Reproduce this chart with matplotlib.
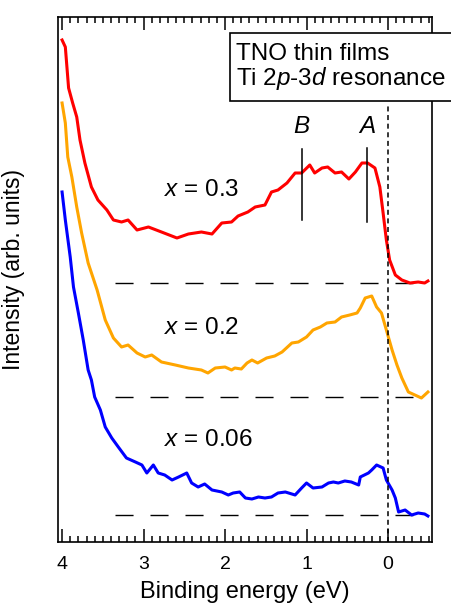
import matplotlib
matplotlib.use('Agg')
import matplotlib.pyplot as plt
from matplotlib.patches import Rectangle
from matplotlib.ticker import MultipleLocator

plt.rcParams['font.family'] = ['Liberation Sans', 'DejaVu Sans']
plt.rcParams['mathtext.fontset'] = 'custom'
plt.rcParams['mathtext.rm'] = 'Liberation Sans'
plt.rcParams['mathtext.it'] = 'Liberation Sans:italic'
plt.rcParams['lines.scale_dashes'] = False

# binding energy (eV) / intensity (arb. units)
e_03 = [4.00, 3.96, 3.92, 3.87, 3.82, 3.78, 3.72, 3.64, 3.56, 3.45, 3.37, 3.27, 3.19, 3.08,
        2.94, 2.78, 2.59, 2.45, 2.29, 2.16, 2.04, 1.92, 1.84, 1.72, 1.63, 1.51, 1.43, 1.35,
        1.24, 1.14, 1.06, 0.96, 0.90, 0.81, 0.74, 0.65, 0.57, 0.48, 0.40, 0.32, 0.25, 0.16,
        0.10, 0.06, 0.02, -0.02, -0.09, -0.17, -0.27, -0.37, -0.45, -0.49]
i_03 = [5.02, 4.95, 4.54, 4.39, 4.25, 4.02, 3.79, 3.55, 3.42, 3.32, 3.22, 3.20, 3.22, 3.12,
        3.15, 3.10, 3.04, 3.08, 3.10, 3.08, 3.19, 3.20, 3.26, 3.30, 3.35, 3.37, 3.50, 3.52,
        3.59, 3.69, 3.69, 3.77, 3.69, 3.74, 3.75, 3.69, 3.70, 3.63, 3.70, 3.79, 3.79, 3.74,
        3.55, 3.29, 3.02, 2.82, 2.67, 2.62, 2.59, 2.60, 2.59, 2.61]

e_02 = [4.00, 3.96, 3.93, 3.88, 3.82, 3.76, 3.68, 3.57, 3.47, 3.37, 3.27, 3.19, 3.08, 2.98,
        2.90, 2.78, 2.61, 2.45, 2.29, 2.21, 2.12, 2.00, 1.92, 1.88, 1.80, 1.73, 1.67, 1.60,
        1.49, 1.39, 1.30, 1.18, 1.10, 1.00, 0.92, 0.83, 0.75, 0.65, 0.57, 0.47, 0.38, 0.34,
        0.28, 0.20, 0.14, 0.08, 0.02, -0.05, -0.11, -0.17, -0.25, -0.33, -0.41, -0.45, -0.49]
i_02 = [4.39, 4.19, 3.85, 3.65, 3.35, 3.09, 2.79, 2.52, 2.22, 2.04, 1.95, 1.97, 1.89, 1.85,
        1.87, 1.80, 1.77, 1.74, 1.72, 1.69, 1.74, 1.75, 1.72, 1.74, 1.73, 1.79, 1.82, 1.79,
        1.84, 1.86, 1.90, 1.99, 2.00, 2.05, 2.12, 2.15, 2.19, 2.20, 2.25, 2.27, 2.29, 2.34,
        2.44, 2.46, 2.35, 2.29, 2.12, 1.92, 1.77, 1.64, 1.50, 1.47, 1.44, 1.47, 1.50]

e_006 = [4.00, 3.96, 3.90, 3.86, 3.80, 3.74, 3.68, 3.64, 3.60, 3.53, 3.47, 3.39, 3.31, 3.21,
         3.10, 3.02, 2.96, 2.88, 2.82, 2.74, 2.65, 2.57, 2.47, 2.41, 2.33, 2.25, 2.16, 2.04,
         1.96, 1.90, 1.82, 1.75, 1.67, 1.59, 1.51, 1.43, 1.35, 1.26, 1.14, 1.06, 1.00, 0.92,
         0.81, 0.73, 0.67, 0.61, 0.53, 0.45, 0.36, 0.34, 0.24, 0.20, 0.14, 0.06, 0.02, -0.05,
         -0.09, -0.13, -0.21, -0.29, -0.37, -0.45, -0.49]
i_006 = [3.50, 3.22, 2.85, 2.55, 2.29, 2.02, 1.72, 1.62, 1.45, 1.32, 1.15, 1.04, 0.95, 0.84,
         0.80, 0.77, 0.69, 0.77, 0.69, 0.67, 0.62, 0.65, 0.69, 0.59, 0.55, 0.58, 0.52, 0.50,
         0.47, 0.49, 0.50, 0.44, 0.43, 0.45, 0.44, 0.45, 0.49, 0.50, 0.47, 0.54, 0.59, 0.54,
         0.55, 0.59, 0.60, 0.59, 0.61, 0.60, 0.57, 0.65, 0.69, 0.72, 0.77, 0.74, 0.62, 0.52,
         0.44, 0.30, 0.32, 0.27, 0.29, 0.28, 0.26]

spectra = [
    (e_03, i_03, '#ff0000', 2.59, '$x$ = 0.3', 3.52),
    (e_02, i_02, '#ffa500', 1.45, '$x$ = 0.2', 2.14),
    (e_006, i_006, '#0000ff', 0.27, '$x$ = 0.06', 1.02),
]
base_range = (3.35, -0.31)
label_e = 2.75

peak_names = ['B', 'A']
peak_e = [1.06, 0.26]
peak_lo = [3.22, 3.20]
peak_hi = [3.93, 3.94]

fig = plt.figure(figsize=(4.52, 6.07), dpi=100)
ax = fig.add_axes([58 / 452, 65 / 607, 374 / 452, 525 / 607])

for e, i, c, base, lab, ly in spectra:
    ax.plot(base_range, [base, base], color='black', lw=1.0, dashes=(13, 12.2))
    ax.plot(e, i, color=c, lw=2.2, solid_joinstyle='round')
    ax.text(label_e, ly, lab, fontsize=17.5, ha='left', va='center')

ax.plot([0, 0], [0, 4.39], color='black', lw=1.1, dashes=(3.6, 2.6))

for name, pe, lo, hi in zip(peak_names, peak_e, peak_lo, peak_hi):
    ax.plot([pe, pe], [lo, hi], color='black', lw=1.1)
    ax.text(pe, 4.15, name, fontsize=17.5, style='italic', ha='center', va='center')

ax.set_xlim(4.05, -0.54)
ax.set_ylim(0, 5.25)
ax.set_yticks([])
ax.xaxis.set_major_locator(MultipleLocator(1))
ax.xaxis.set_minor_locator(MultipleLocator(0.1))
ax.tick_params(axis='x', which='both', direction='in', top=True, width=1.1, labelsize=14, pad=10)
ax.tick_params(axis='x', which='major', length=9.4)
ax.tick_params(axis='x', which='minor', length=4.3)
for s in ax.spines.values():
    s.set_linewidth(1.2)

ax.set_xlabel('Binding energy (eV)', fontsize=17)
ax.xaxis.set_label_coords(0.5, -0.074)
ax.set_ylabel('Intensity (arb. units)', fontsize=16.5)
ax.yaxis.set_label_coords(-0.088, 0.52)

box = Rectangle((0.46, 0.84), 0.7, 0.1295, transform=ax.transAxes, fill=True,
                facecolor='white', edgecolor='black', lw=1.2, clip_on=False, zorder=5)
ax.add_patch(box)
ax.text(0.476, 0.918, 'TNO thin films', transform=ax.transAxes, fontsize=17.5,
        va='baseline', ha='left', zorder=6)
ax.text(0.476, 0.870, 'Ti 2$p$-3$d$ resonance', transform=ax.transAxes, fontsize=17.5,
        va='baseline', ha='left', zorder=6)

fig.savefig('out.png', dpi=100)
